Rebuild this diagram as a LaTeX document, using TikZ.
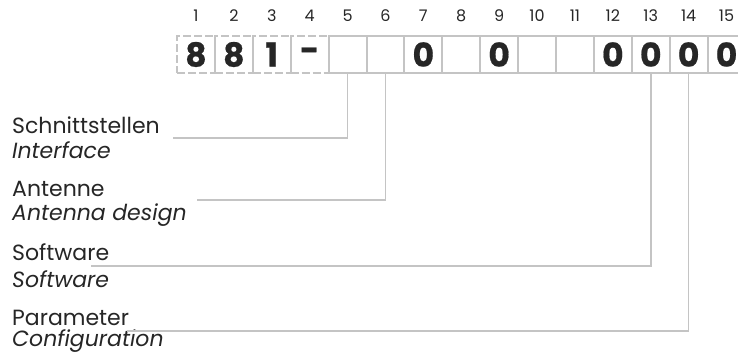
\documentclass[tikz,border=0pt]{standalone}
\usepackage{fontspec}
\setmainfont{Poppins}
\newfontfamily\boxfont[BoldFeatures={FakeBold=0.6}]{Poppins}
\usepackage{tikz}
\usetikzlibrary{positioning}
\definecolor{ink}{RGB}{38,38,38}
\definecolor{rulegray}{RGB}{196,196,196}

\begin{document}
\begin{tikzpicture}[x=1pt,y=1pt,
  cell/.style={draw=rulegray,line width=2pt,minimum width=37.9pt,minimum height=37pt,
    inner sep=0pt,text=ink,font=\boxfont\fontsize{33}{33}\selectfont\bfseries},
  dcell/.style={cell,dash pattern=on 8pt off 3pt},
  num/.style={inner sep=0pt,text=ink,font=\fontsize{16}{18}\selectfont},
  lab/.style={anchor=base west,inner sep=0pt,text=ink,font=\fontsize{22}{24}\selectfont},
  ilab/.style={lab,font=\fontsize{22}{24}\selectfont\itshape},
  leader/.style={draw=rulegray,line width=1.5pt}]
  \useasboundingbox (0,0) rectangle (738,-356);
  % the code boxes, first four dashed
  \foreach \i/\d in {1/8,2/8,3/1,4/-}
    \node[dcell] (c\i) at ({177+37.9*(\i-0.5)},-54.5) {\d};
  \foreach \i/\d in {5/,6/,7/0,8/,9/0,10/,11/,12/0,13/0,14/0,15/0}
    \node[cell] (c\i) at ({177+37.9*(\i-0.5)},-54.5) {\d};
  % positions above the boxes
  \foreach \i in {1,...,15}
    \node[num,above=13pt of c\i] (n\i) {\i};
  % labels
  \node[lab]  (s5)  at (12,-133) {Schnittstellen};
  \node[ilab] (t5)  at (12,-158) {Interface};
  \node[lab]  (s6)  at (12,-196) {Antenne};
  \node[ilab] (t6)  at (12,-220) {Antenna design};
  \node[lab]  (s13) at (12,-260) {Software};
  \node[ilab] (t13) at (12,-287) {Software};
  \node[lab]  (s14) at (12,-325) {Parameter};
  \node[ilab] (t14) at (12,-346) {Configuration};
  % leader lines
  \coordinate (e5)  at (173,-138);
  \coordinate (e6)  at (197,-200);
  \coordinate (e13) at (91,-266);
  \coordinate (e14) at (127,-331);
  \foreach \i in {5,6,13,14}
    \draw[leader] (c\i.south) |- (e\i);
\end{tikzpicture}
\end{document}
